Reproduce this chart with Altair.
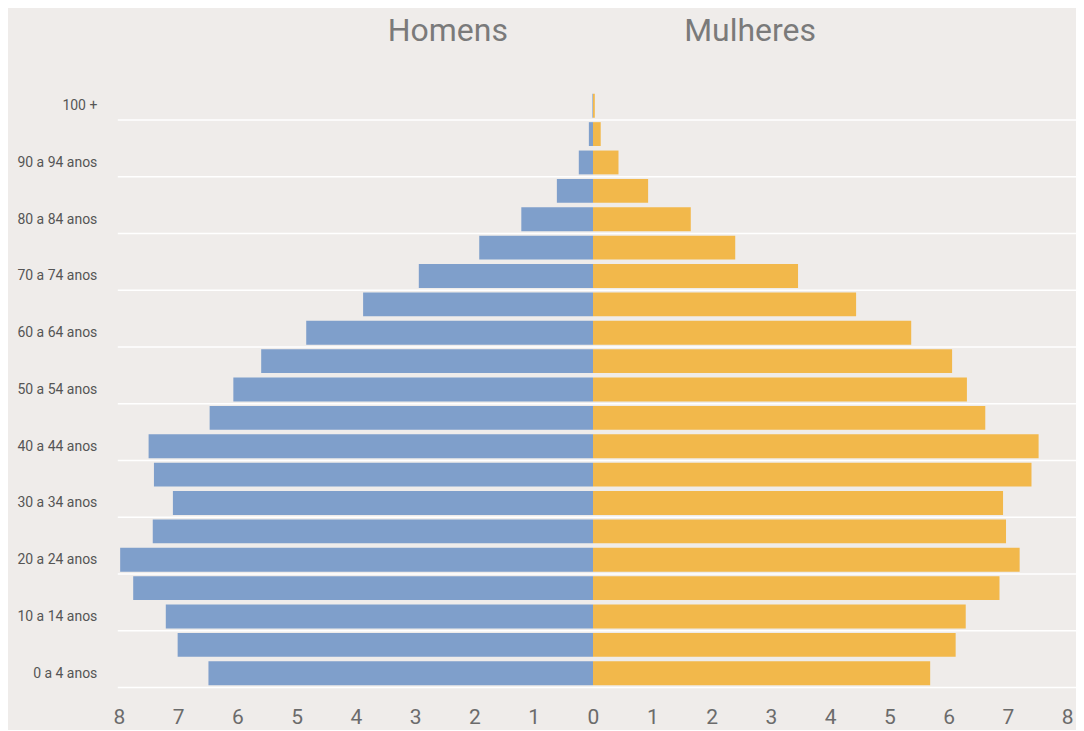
import altair as alt
import pandas as pd

ages = ["0 a 4 anos", "5 a 9 anos", "10 a 14 anos", "15 a 19 anos", "20 a 24 anos",
        "25 a 29 anos", "30 a 34 anos", "35 a 39 anos", "40 a 44 anos", "45 a 49 anos",
        "50 a 54 anos", "55 a 59 anos", "60 a 64 anos", "65 a 69 anos", "70 a 74 anos",
        "75 a 79 anos", "80 a 84 anos", "85 a 89 anos", "90 a 94 anos", "95 a 99 anos", "100 +"]
homens = [6.49, 7.01, 7.21, 7.76, 7.98, 7.43, 7.09, 7.41, 7.50, 6.47, 6.07, 5.60,
          4.84, 3.88, 2.94, 1.92, 1.21, 0.61, 0.24, 0.07, 0.01]
mulheres = [5.69, 6.12, 6.29, 6.86, 7.20, 6.97, 6.92, 7.40, 7.52, 6.62, 6.31, 6.06,
            5.37, 4.44, 3.46, 2.40, 1.65, 0.93, 0.43, 0.13, 0.03]
titles = ["Homens", "Mulheres"]
title_x = [-2.45, 2.65]
x_ticks = list(range(-8, 9))

rows = []
for i, a in enumerate(ages):
    rows.append({"idx": i, "age": a, "sexo": "Homens", "v": homens[i]})
    rows.append({"idx": i, "age": a, "sexo": "Mulheres", "v": mulheres[i]})
df = pd.DataFrame(rows)

label_idx = list(range(0, len(ages), 2))
js_labels = "[" + ",".join("'" + a + "'" for a in ages) + "]"

BG = "#efecea"
W = 954
xscale = alt.Scale(domain=[-8.02, 8.05], nice=False, zero=False)
yscale = alt.Scale(domain=[-0.5, len(ages) - 0.5], nice=False, zero=False)

bars = alt.Chart(df).transform_calculate(
    xv="datum.sexo == 'Homens' ? -datum.v : datum.v",
    y0="datum.idx - 0.42",
    y1="datum.idx + 0.42",
).mark_bar().encode(
    x=alt.X("xv:Q", scale=xscale, title=None,
            axis=alt.Axis(values=x_ticks, labelExpr="abs(datum.value)", grid=False,
                          domain=False, ticks=False, labelFontSize=21, labelColor="#6b6b6b",
                          labelFont="Roboto", labelPadding=19)),
    x2=alt.datum(0),
    y=alt.Y("y0:Q", scale=yscale, title=None,
            axis=alt.Axis(values=label_idx, labelExpr=js_labels + "[datum.value]", grid=False,
                          domain=False, ticks=False, labelFontSize=14, labelColor="#555555",
                          labelFont="Roboto", labelPadding=21)),
    y2="y1:Q",
    color=alt.Color("sexo:N", scale=alt.Scale(domain=["Homens", "Mulheres"],
                                              range=["#7f9fcb", "#f2b84b"]), legend=None),
)

grid_df = pd.DataFrame({"g": [i - 0.5 for i in label_idx]})
grid = alt.Chart(grid_df).mark_rule(color="white", strokeWidth=1.5).encode(
    y=alt.Y("g:Q", scale=yscale, title=None),
    x=alt.value(0), x2=alt.value(W + 6),
)

tdf = pd.DataFrame({"t": titles, "x": title_x})
tlayer = alt.Chart(tdf).mark_text(fontSize=32, color="#7a7a7a", font="Roboto",
                                  baseline="middle").encode(
    x=alt.X("x:Q", scale=xscale, title=None),
    y=alt.value(-61),
    text="t:N",
)

chart = alt.layer(bars, grid, tlayer).properties(
    width=W, height=597,
    background=BG,
    padding={"left": 110, "top": 83, "right": 6, "bottom": 42},
    autosize=alt.AutoSizeParams(type="none"),
).configure_view(stroke=None, fill=BG, clip=False)

chart.save("out.html", embed_options={"renderer": "svg", "actions": False})
